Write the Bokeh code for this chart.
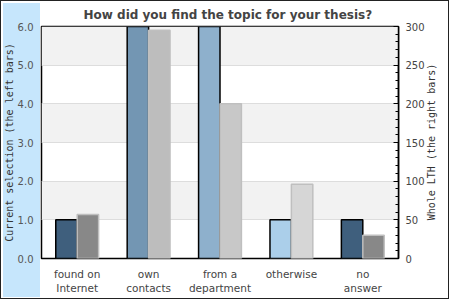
import math
from bokeh.plotting import figure
from bokeh.models import (Range1d, FactorRange, LinearAxis, SingleIntervalTicker, FixedTicker,
                          ColumnDataSource, PrintfTickFormatter)
from bokeh.transform import dodge
from bokeh.embed import file_html
from bokeh.resources import INLINE

categories = ["found on\nInternet", "own\ncontacts", "from a\ndepartment", "otherwise", "no\nanswer"]
current_selection = [1, 7, 7, 1, 1]          # two bars run past the 6.0 top of the scale
whole_lth = [57, 295, 200, 96, 30]
left_colors = ["#3f5f7d", "#7396b3", "#8eb0cc", "#abcfea", "#3f5f7d"]
right_colors = ["#888888", "#bdbdbd", "#c8c8c8", "#d6d6d6", "#888888"]

title_text = "How did you find the topic for your thesis?"
left_label = "Current selection (the left bars)"
right_label = "Whole LTH (the right bars)"

src = ColumnDataSource(dict(cat=categories, cur=current_selection, lth=whole_lth,
                            lc=left_colors, rc=right_colors))

p = figure(width=450, height=300, output_backend="svg", toolbar_location=None,
           x_range=FactorRange(*categories, range_padding=0),
           y_range=Range1d(0, 6), min_border_left=40, min_border_right=52,
           min_border_top=25, min_border_bottom=42)
p.extra_y_ranges = {"right": Range1d(0, 300)}

# page background: light blue strip behind the left axis, thin dark border round the chart
p.border_fill_alpha = 0
p.styles = {
    "background": (
        "linear-gradient(#222,#222) 0px 0px / 449px 1px no-repeat, "
        "linear-gradient(#222,#222) 0px 298px / 449px 1px no-repeat, "
        "linear-gradient(#222,#222) 0px 0px / 1px 299px no-repeat, "
        "linear-gradient(#222,#222) 448px 0px / 1px 299px no-repeat, "
        "linear-gradient(#c6e6fc,#c6e6fc) 3px 3px / 37px 294px no-repeat, "
        "white"
    )
}

p.vbar(x=dodge("cat", -0.15, range=p.x_range), top="cur", width=0.3, source=src,
       fill_color="lc", line_color="black", line_width=1.5)
p.vbar(x=dodge("cat", 0.15, range=p.x_range), top="lth", width=0.3, source=src,
       fill_color="rc", line_color="#bfbfbf", line_width=1.5, y_range_name="right")

p.title.text = title_text
p.title.align = "left"
p.title.offset = 42
p.title.text_font = "DejaVu Sans"
p.title.text_font_style = "bold"
p.title.text_font_size = "12px"
p.title.text_color = "#444444"

p.outline_line_color = "black"
p.outline_line_width = 1.5
p.background_fill_color = "white"

p.xgrid.grid_line_color = None
p.ygrid.grid_line_color = "#dddddd"
p.ygrid.band_fill_color = "#f2f2f2"
p.ygrid.band_fill_alpha = 1

yl = p.yaxis[0]
yl.ticker = SingleIntervalTicker(interval=1, num_minor_ticks=0)
yl.formatter = PrintfTickFormatter(format="%.1f")
yl.axis_line_color = None
yl.major_tick_line_color = None
yl.minor_tick_line_color = None
yl.major_tick_out = 0
yl.major_tick_in = 0
yl.minor_tick_out = 0
yl.major_label_text_font = "DejaVu Sans"
yl.major_label_text_font_size = "10px"
yl.major_label_text_color = "#555555"
yl.major_label_standoff = 8
yl.axis_label = left_label
yl.axis_label_text_font = "DejaVu Sans Mono"
yl.axis_label_text_font_size = "10px"
yl.axis_label_text_font_style = "normal"
yl.axis_label_text_color = "#333333"
yl.axis_label_standoff = 0

yr = LinearAxis(y_range_name="right", ticker=SingleIntervalTicker(interval=50, num_minor_ticks=5))
yr.axis_line_color = "black"
yr.axis_line_width = 1.5
yr.major_tick_in = 5
yr.major_tick_out = 0
yr.minor_tick_in = 3
yr.minor_tick_out = 0
yr.major_tick_line_color = "black"
yr.minor_tick_line_color = "black"
yr.major_label_text_font = "DejaVu Sans"
yr.major_label_text_font_size = "10px"
yr.major_label_text_color = "#444444"
yr.major_label_standoff = 7
p.add_layout(yr, "right")

# right-hand axis title, reading upward like the left one (drawn as a single rotated
# label on a bare axis, starting where the centred text should begin)
label_start = 49.4
title_axis = LinearAxis(y_range_name="right", ticker=FixedTicker(ticks=[label_start]),
                        major_label_overrides={label_start: right_label},
                        major_label_orientation=math.pi / 2)
title_axis.axis_line_color = None
title_axis.major_tick_line_color = None
title_axis.minor_tick_line_color = None
title_axis.major_tick_in = 0
title_axis.major_tick_out = 0
title_axis.minor_tick_in = 0
title_axis.minor_tick_out = 0
title_axis.major_label_standoff = 4
title_axis.major_label_text_font = "DejaVu Sans Mono"
title_axis.major_label_text_font_size = "10px"
title_axis.major_label_text_color = "#333333"
p.add_layout(title_axis, "right")

xa = p.xaxis[0]
xa.axis_line_color = None
xa.major_tick_line_color = None
xa.minor_tick_line_color = None
xa.major_tick_out = 0
xa.major_tick_in = 0
xa.major_label_text_font = "DejaVu Sans"
xa.major_label_text_font_size = "10.5px"
xa.major_label_text_color = "#444444"
xa.major_label_standoff = 9

open("out.html", "w").write(file_html(p, INLINE))
